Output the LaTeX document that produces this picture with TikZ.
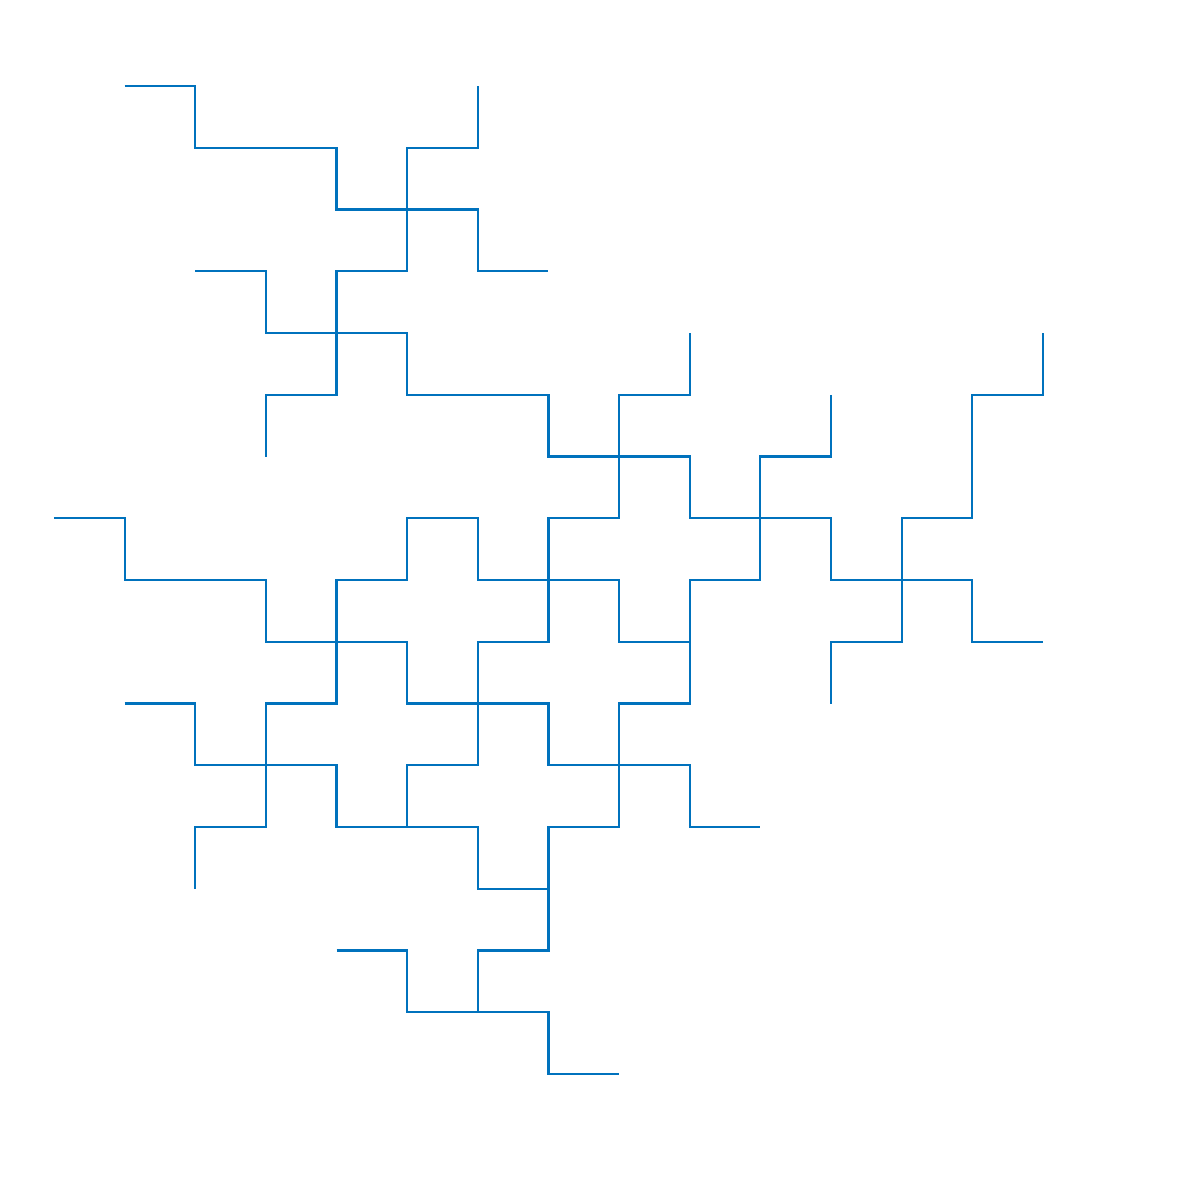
\documentclass[tikz,border=0pt]{standalone}
\definecolor{curve}{HTML}{0072BD}
\tikzset{curveline/.style={draw=curve, line width=0.62pt, line join=miter}}
\begin{document}
\begin{tikzpicture}
\useasboundingbox (0,0) rectangle (12,-12);
\begin{scope}[shift={(0.54,-0.86)}, x=0.7064cm, y=-0.6175cm]
% path A
\draw[curveline] (1,0)--(2,0)--(2,1)--(4,1)--(4,2)--(6,2)--(6,3)--(7,3);
% path B
\draw[curveline] (6,0)--(6,1)--(5,1)--(5,3)--(4,3)--(4,5)--(3,5)--(3,6);
% path C
\draw[curveline] (2,3)--(3,3)--(3,4)--(5,4)--(5,5)--(7,5)--(7,6)--(9,6)--(9,7)--(11,7)--(11,8)--(13,8)--(13,9)--(14,9);
% path D
\draw[curveline] (9,4)--(9,5)--(8,5)--(8,7)--(7,7)--(7,9)--(6,9)--(6,11)--(5,11)--(5,12);
% path E
\draw[curveline] (11,5)--(11,6)--(10,6)--(10,8)--(9,8)--(9,10)--(8,10)--(8,12)--(7,12)--(7,14)--(6,14)--(6,15);
% path F
\draw[curveline] (14,4)--(14,5)--(13,5)--(13,7)--(12,7)--(12,9)--(11,9)--(11,10);
% path G
\draw[curveline] (0,7)--(1,7)--(1,8)--(3,8)--(3,9)--(5,9)--(5,10)--(7,10)--(7,11)--(9,11)--(9,12)--(10,12);
% path H
\draw[curveline] (2,13)--(2,12)--(3,12)--(3,10)--(4,10)--(4,8)--(5,8)--(5,7)--(6,7)--(6,8)--(8,8)--(8,9)--(9,9);
% path I
\draw[curveline] (1,10)--(2,10)--(2,11)--(4,11)--(4,12)--(6,12)--(6,13)--(7,13);
% path J
\draw[curveline] (4,14)--(5,14)--(5,15)--(7,15)--(7,16)--(8,16);
\end{scope}
\end{tikzpicture}
\end{document}
